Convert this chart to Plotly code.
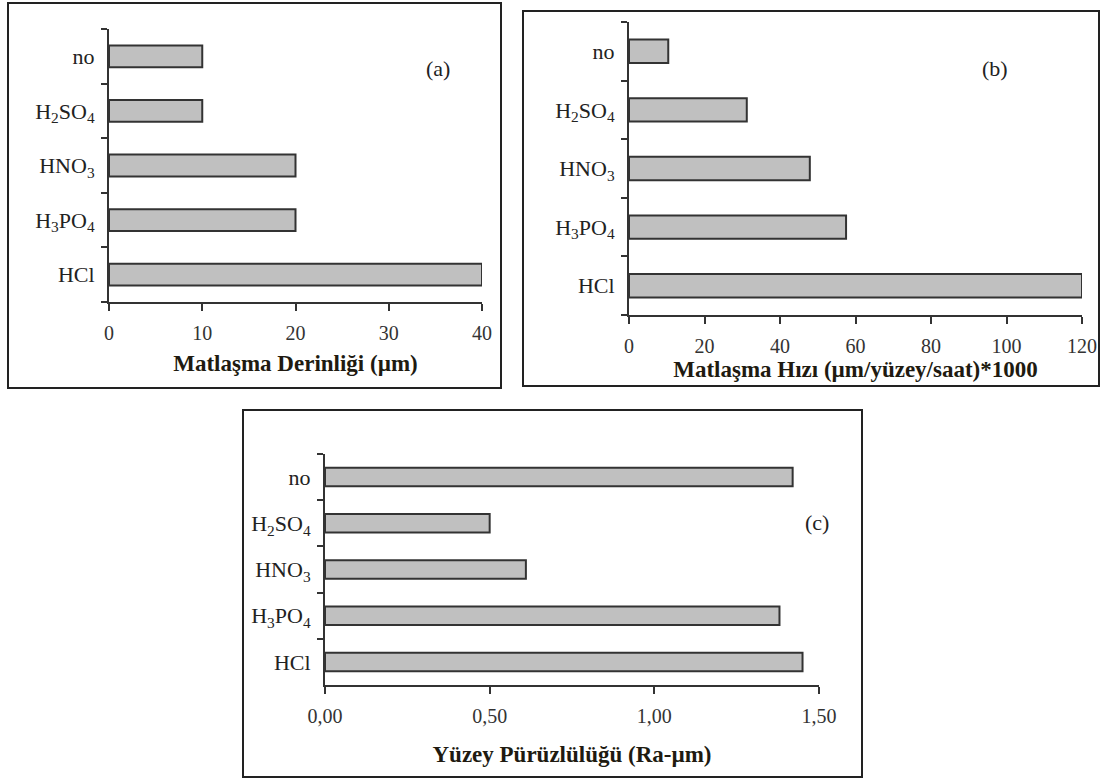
import plotly.graph_objects as go

# ---- data ----
categories = ["HCl", "H<sub>3</sub>PO<sub>4</sub>", "HNO<sub>3</sub>", "H<sub>2</sub>SO<sub>4</sub>", "no"]
depth = [40, 20, 20, 10, 10]                 # Matlaşma Derinliği (µm)
rate = [120, 57.5, 47.9, 31.2, 10.4]         # Matlaşma Hızı
roughness = [1.45, 1.38, 0.61, 0.50, 1.42]   # Yüzey Pürüzlülüğü

title_a = "Matlaşma Derinliği (µm)"
title_b = "Matlaşma Hızı (µm/yüzey/saat)*1000"
title_c = "Yüzey Pürüzlülüğü (Ra-µm)"

W, H = 1101, 780
def px(x): return x / W
def py(y): return 1 - y / H

FONT = "Liberation Serif"
AX = "#333333"
BAR_FILL = "#c0c0c0"

fig = go.Figure()
fig.add_trace(go.Bar(y=categories, x=depth, orientation="h", xaxis="x", yaxis="y",
                     marker=dict(color=BAR_FILL, line=dict(color=AX, width=2))))
fig.add_trace(go.Bar(y=categories, x=rate, orientation="h", xaxis="x2", yaxis="y2",
                     marker=dict(color=BAR_FILL, line=dict(color=AX, width=2))))
fig.add_trace(go.Bar(y=categories, x=roughness, orientation="h", xaxis="x3", yaxis="y3",
                     marker=dict(color=BAR_FILL, line=dict(color=AX, width=2))))

def xax(domain, anchor, rng, dtick, title, standoff, fmt=None):
    d = dict(domain=domain, anchor=anchor, range=rng, dtick=dtick, tick0=0,
             automargin=False, ticklabelstandoff=5,
             showline=True, linecolor=AX, linewidth=2, ticks="outside", ticklen=7,
             tickwidth=2, tickcolor=AX, showgrid=False, zeroline=False,
             tickfont=dict(family=FONT, size=20, color="#333"),
             title=dict(text="<b>" + title + "</b>", standoff=standoff,
                        font=dict(family=FONT, size=23, color="#201a10")))
    if fmt:
        d["tickformat"] = fmt
    return d

def yax(domain, anchor):
    return dict(domain=domain, anchor=anchor, type="category", automargin=False,
                showline=True, linecolor=AX, linewidth=2, ticks="outside", ticklen=6,
                tickwidth=2, tickcolor=AX, tickson="boundaries", showgrid=False,
                zeroline=False, ticklabelstandoff=8,
                tickfont=dict(family=FONT, size=22, color="#222"))

layout = dict(
    width=W, height=H, autosize=False,
    margin=dict(l=0, r=0, t=0, b=0, pad=0, autoexpand=False),
    paper_bgcolor="white", plot_bgcolor="white",
    showlegend=False, bargap=0.6, separators=",.",
    xaxis=xax([px(109), px(482)], "y", [0, 40], 10, title_a, 12),
    yaxis=yax([py(302), py(29)], "x"),
    xaxis2=xax([px(629), px(1082)], "y2", [0, 120], 20, title_b, 5),
    yaxis2=yax([py(315), py(22)], "x2"),
    xaxis3=xax([px(325), px(819)], "y3", [0, 1.5], 0.5, title_c, 20, fmt=".2f"),
    yaxis3=yax([py(685), py(454)], "x3"),
)
fig.update_layout(**layout)

frames = [(8, 3, 501, 388), (523, 11, 1099, 386), (243, 410, 862, 777)]
for x0, y0, x1, y1 in frames:
    fig.add_shape(type="rect", xref="paper", yref="paper",
                  x0=px(x0), x1=px(x1), y0=py(y1), y1=py(y0),
                  line=dict(color="#222", width=2), fillcolor="rgba(0,0,0,0)")

labels = [("(a)", 438, 68), ("(b)", 995, 68), ("(c)", 817, 522)]
for t, x, y in labels:
    fig.add_annotation(text=t, x=px(x), y=py(y), xref="paper", yref="paper",
                       xanchor="center", yanchor="middle",
                       showarrow=False, font=dict(family=FONT, size=22, color="#222"))

fig.write_html("out.html", config={"displayModeBar": False},
               post_script="document.body.style.margin='0';document.body.style.overflow='hidden';")
